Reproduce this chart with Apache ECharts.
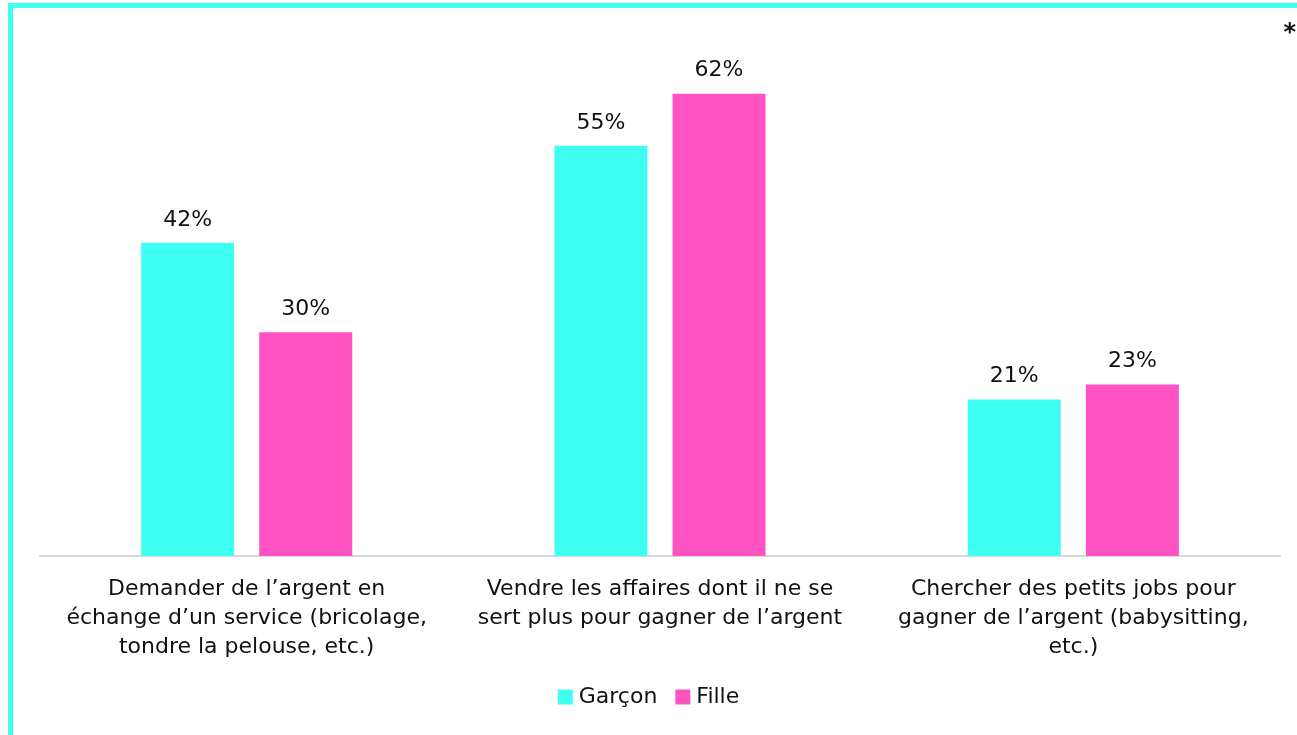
<!DOCTYPE html>
<html>
<head>
<meta charset="utf-8">
<script src="https://cdn.jsdelivr.net/npm/echarts@6/dist/echarts.min.js"></script>
<style>
html, body { margin: 0; padding: 0; background: #fff; }
#cadre {
  position: absolute; left: 8px; top: 3px; width: 1400px; height: 800px;
  border-left: 5px solid #3ffff3; border-top: 5px solid #3ffff3;
}
#chart { position: absolute; left: 0; top: 0; width: 1297px; height: 735px; }
</style>
</head>
<body>
<div id="cadre"></div>
<div id="chart"></div>
<script>
// catégories (libellés sur 3 lignes comme dans l'original)
var categories = [
  'Demander de l\u2019argent en\n\u00e9change d\u2019un service (bricolage,\ntondre la pelouse, etc.)',
  'Vendre les affaires dont il ne se\nsert plus pour gagner de l\u2019argent',
  'Chercher des petits jobs pour\ngagner de l\u2019argent (babysitting,\netc.)'
]
var seriesNames = ['Gar\u00e7on', 'Fille']
var garcon = [42, 55, 21]
var fille = [30, 62, 23]

var police = '"DejaVu Sans", Inter, sans-serif'
var myChart = echarts.init(document.getElementById('chart'))

var labelPct = {
  show: true,
  position: 'top',
  distance: 12,
  formatter: '{c}%',
  color: '#111',
  fontSize: 22,
  fontFamily: police
}

var option = {
  animation: false,
  grid: { left: 40, right: 17, top: 34, bottom: 179 },
  legend: {
    data: seriesNames,
    bottom: 22,
    left: 'center',
    icon: 'rect',
    itemWidth: 15,
    itemHeight: 15,
    itemGap: 18,
    textStyle: { fontSize: 22, color: '#111', fontFamily: police, padding: [0, 0, 0, 1] }
  },
  graphic: [
    { type: 'text', right: 1, top: 22, style: { text: '*', fontSize: 24, fontWeight: 'bold', fill: '#111', fontFamily: police } }
  ],
  xAxis: {
    type: 'category',
    data: categories,
    axisLine: { lineStyle: { color: '#d9d9d9', width: 2 } },
    axisTick: { show: false },
    axisLabel: {
      interval: 0,
      margin: 19,
      fontSize: 22,
      lineHeight: 29,
      color: '#111',
      fontFamily: police,
      align: 'center'
    }
  },
  yAxis: {
    type: 'value',
    min: 0,
    max: 70,
    show: false,
    splitLine: { show: false }
  },
  series: [
    {
      name: seriesNames[0],
      type: 'bar',
      data: garcon,
      barWidth: '22.5%',
      barGap: '27%',
      itemStyle: { color: '#3ffff3' },
      label: labelPct
    },
    {
      name: seriesNames[1],
      type: 'bar',
      data: fille,
      barWidth: '22.5%',
      itemStyle: { color: '#ff53c3' },
      label: labelPct
    }
  ]
}
myChart.setOption(option)
</script>
</body>
</html>
